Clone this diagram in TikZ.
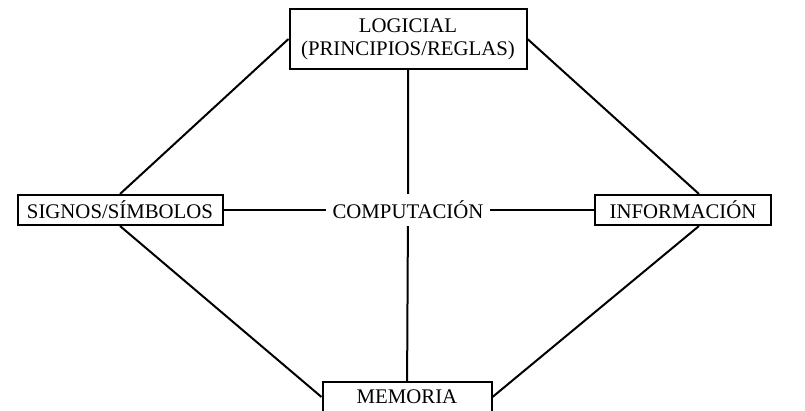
\documentclass[tikz,border=0pt]{standalone}
\usepackage{fontspec}
\setmainfont{Liberation Serif}

\begin{document}
\begin{tikzpicture}[x=0.5pt,y=-0.5pt,
    caja/.style={draw,line width=1pt,inner sep=2pt,align=center,font=\fontsize{10.4}{11.5}\selectfont},
    lazo/.style={line width=1pt}]
    \useasboundingbox (0,0) rectangle (805,411);
    \clip (0,0) rectangle (805,411);
    \node[caja,minimum width=118.5pt,minimum height=30pt] (logico) at (408,39) {LOGICIAL\\(PRINCIPIOS/REGLAS)};
    \node[caja,minimum width=102.5pt,minimum height=15pt] (signos) at (120,210) {SIGNOS/SÍMBOLOS};
    \node[caja,minimum width=88pt,minimum height=15pt] (info) at (683,210) {INFORMACIÓN};
    \node[caja,minimum width=84.5pt,minimum height=15pt] (memoria) at (407,397) {MEMORIA};
    \node[caja,draw=none,inner sep=3pt] (comp) at (408,210) {COMPUTACIÓN};

    \draw[lazo] (logico.west) -- (signos.north);
    \draw[lazo] (logico.east) -- (info.45);
    \draw[lazo] (signos.south) -- (memoria.west);
    \draw[lazo] (info.-45) -- (memoria.east);
    \draw[lazo] (signos) -- (comp) -- (info);
    \draw[lazo] (logico) -- (comp) -- (memoria);

\end{tikzpicture}
\end{document}
